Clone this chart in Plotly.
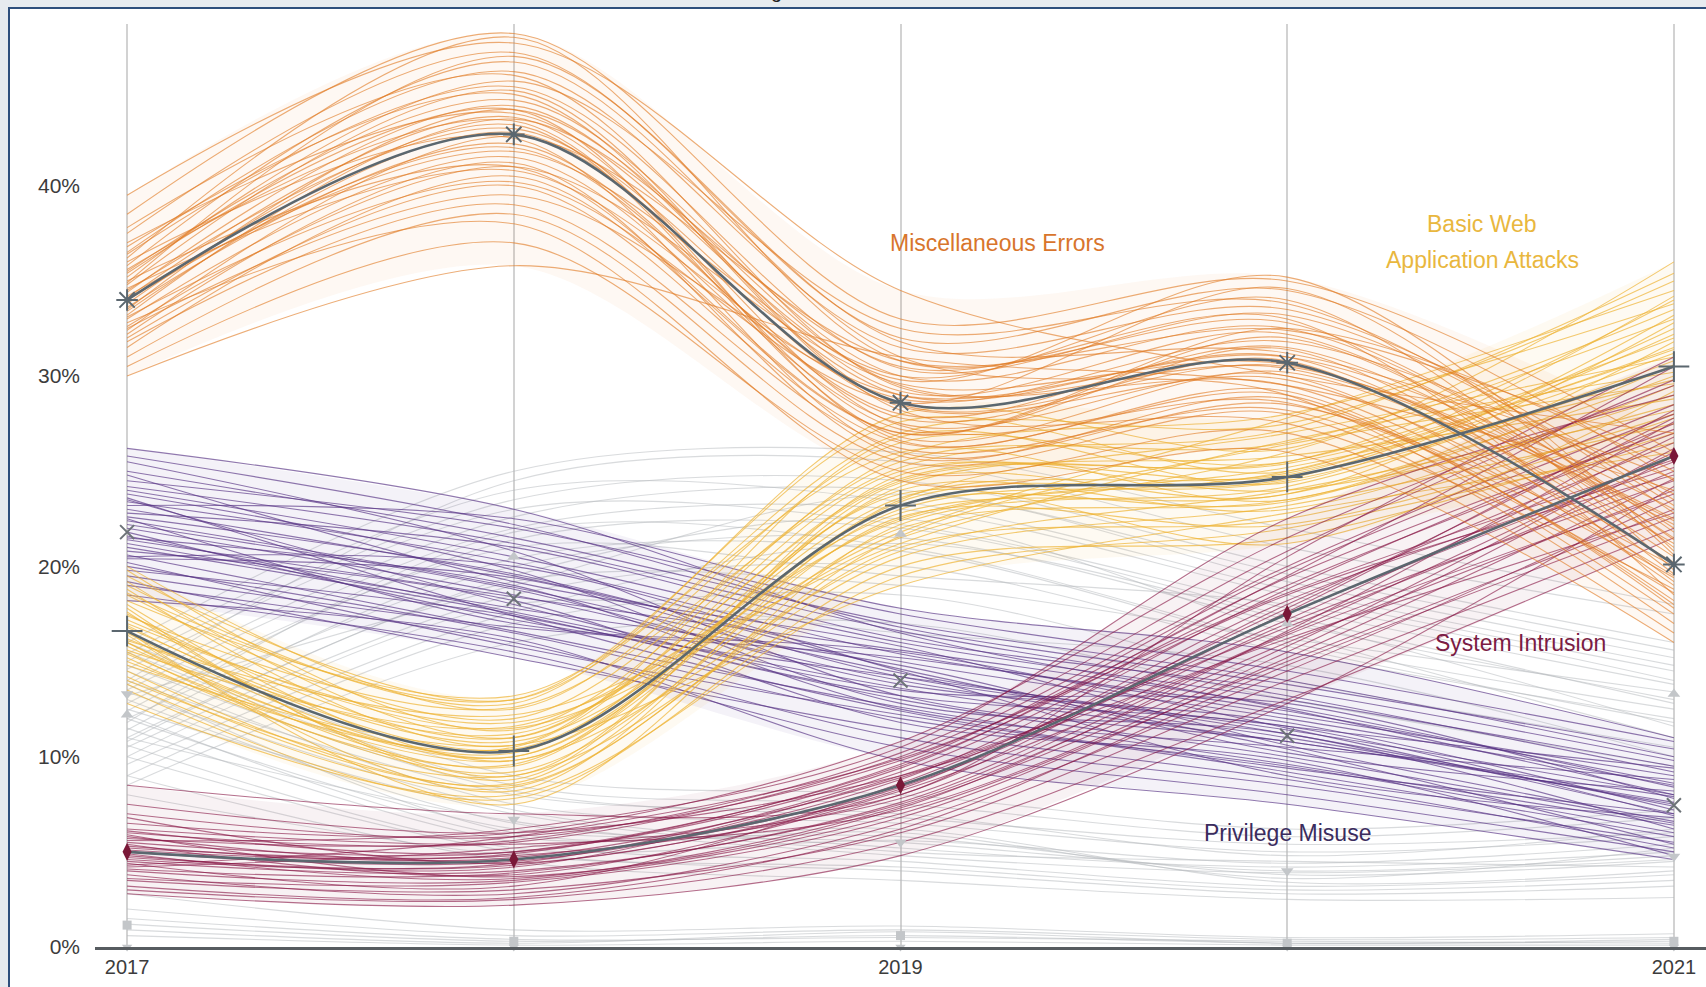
import plotly.graph_objects as go

years = [2017, 2018, 2019, 2020, 2021]
tick_text = ["2017", "", "2019", "", "2021"]
y_ticks = [0, 10, 20, 30, 40]
y_tick_text = ["0%", "10%", "20%", "30%", "40%"]

# Median (central) estimate per pattern, % of breaches
misc_errors_median = [34.0, 42.7, 28.6, 30.7, 20.1]
basic_web_median = [16.6, 10.3, 23.2, 24.7, 30.5]
system_intrusion_median = [5.0, 4.6, 8.5, 17.5, 25.8]
privilege_misuse_median = [21.8, 18.3, 14.0, 11.1, 7.45]
other_a_median = [12.2, 20.5, 21.7, 17.0, 13.3]
other_b_median = [13.3, 6.7, 5.5, 4.0, 4.75]
other_c_median = [1.15, 0.3, 0.6, 0.2, 0.3]
other_d_median = [0.0, 0.0, 0.0, 0.0, 0.0]

# Individual simulated outcomes (one list per line)
misc_errors_draws = [
    [34.5, 43.0, 29.0, 31.0, 20.5], [33.0, 41.5, 27.5, 30.0, 19.0],
    [35.5, 44.5, 30.0, 32.5, 22.0], [32.0, 40.0, 26.5, 29.0, 18.0],
    [36.5, 46.0, 31.5, 33.5, 23.5], [31.0, 38.5, 25.5, 28.0, 17.0],
    [37.5, 47.0, 32.0, 34.5, 24.5], [34.0, 42.0, 28.0, 31.5, 21.5],
    [33.5, 44.0, 29.5, 29.5, 19.5], [35.0, 41.0, 27.0, 32.0, 21.0],
    [30.5, 37.0, 25.0, 27.0, 16.5], [38.5, 48.0, 33.0, 35.0, 26.0],
    [34.8, 45.0, 28.5, 30.5, 22.5], [33.2, 43.5, 30.5, 33.0, 18.5],
    [36.0, 42.5, 26.0, 28.5, 20.0], [32.5, 39.5, 29.0, 31.0, 23.0],
    [35.8, 46.5, 31.0, 29.0, 17.5], [31.5, 40.5, 27.0, 32.5, 25.0],
    [34.2, 41.8, 30.0, 34.0, 19.8], [39.5, 47.5, 34.5, 30.0, 27.0],
    [33.8, 43.2, 26.8, 30.2, 21.2], [36.8, 44.8, 28.2, 27.5, 18.8],
    [32.8, 38.0, 24.5, 26.0, 16.0], [35.2, 45.5, 32.5, 33.8, 22.8],
    [30.0, 35.8, 31.0, 29.5, 24.0], [37.0, 43.8, 29.8, 35.2, 20.8],
    [33.6, 42.2, 27.8, 30.8, 19.2], [34.6, 40.8, 28.8, 31.8, 23.8],
    [36.2, 47.8, 30.8, 32.8, 21.8], [32.2, 41.2, 25.8, 28.8, 18.2],
    [34.4, 44.2, 29.2, 32.2, 21.4], [33.4, 42.8, 28.4, 29.8, 20.2],
    [35.6, 43.4, 27.2, 31.4, 19.6], [32.6, 41.0, 29.6, 30.6, 22.2],
    [36.4, 45.2, 30.4, 33.2, 23.2], [31.8, 39.0, 26.2, 28.2, 18.6],
    [34.9, 46.8, 31.8, 31.2, 24.6], [33.1, 40.2, 28.6, 34.6, 20.6],
    [35.4, 44.0, 26.6, 29.2, 17.8], [37.8, 45.8, 29.4, 30.4, 22.4],
    [32.4, 42.6, 30.8, 32.4, 25.6], [34.1, 43.6, 27.4, 28.6, 19.4],
]
basic_web_draws = [
    [16.5, 10.0, 23.0, 24.5, 30.5], [17.5, 11.0, 24.5, 25.5, 32.0],
    [15.5, 9.2, 22.0, 23.5, 29.0], [18.5, 12.0, 25.5, 26.5, 33.5],
    [14.5, 8.5, 21.0, 22.5, 28.0], [19.5, 13.0, 27.0, 27.5, 35.0],
    [13.5, 7.8, 20.0, 21.5, 27.0], [16.8, 10.8, 22.5, 25.0, 31.5],
    [16.0, 9.5, 24.0, 23.0, 29.5], [17.2, 11.5, 21.5, 26.0, 33.0],
    [15.0, 10.5, 25.0, 24.0, 28.5], [18.0, 9.8, 23.5, 27.0, 31.0],
    [12.8, 8.0, 19.5, 22.0, 26.5], [20.0, 12.5, 26.5, 25.5, 34.0],
    [16.2, 11.2, 22.8, 23.8, 30.0], [17.8, 8.8, 24.8, 24.8, 32.5],
    [14.0, 9.0, 20.5, 23.2, 27.5], [19.0, 12.8, 28.0, 26.2, 36.0],
    [15.8, 10.2, 23.8, 21.2, 29.2], [17.0, 11.8, 21.8, 27.8, 34.5],
    [16.6, 7.5, 22.2, 24.2, 30.8], [18.2, 13.2, 26.0, 23.5, 31.8],
    [15.2, 9.6, 24.2, 25.8, 28.8], [14.8, 10.6, 19.0, 22.8, 26.0],
    [19.8, 11.4, 25.8, 28.0, 33.8], [16.4, 8.2, 23.4, 24.6, 32.2],
    [16.9, 10.4, 23.6, 24.9, 31.2], [15.6, 11.6, 22.4, 25.2, 29.8],
    [17.6, 9.0, 24.4, 23.8, 32.8], [16.1, 12.2, 21.2, 26.6, 30.2],
    [18.8, 10.6, 26.8, 24.4, 33.2], [14.2, 8.6, 22.6, 22.2, 27.8],
    [17.4, 12.6, 25.2, 27.2, 35.4], [15.4, 9.8, 20.8, 24.0, 28.2],
    [19.2, 11.0, 24.6, 25.4, 31.4], [16.0, 10.0, 23.2, 23.4, 30.6],
    [13.8, 8.4, 21.6, 26.4, 29.6], [18.6, 13.0, 27.6, 25.0, 34.2],
]
system_intrusion_draws = [
    [5.0, 4.5, 8.5, 17.5, 25.5], [5.5, 5.0, 9.5, 19.0, 27.0],
    [4.5, 4.0, 7.5, 16.0, 24.0], [6.0, 5.5, 10.0, 20.0, 28.5],
    [4.0, 3.5, 7.0, 15.0, 23.0], [6.5, 6.0, 10.8, 21.5, 29.5],
    [3.5, 3.0, 6.0, 14.0, 22.0], [5.2, 4.8, 8.0, 18.0, 26.5],
    [4.8, 4.2, 9.0, 16.8, 25.0], [5.8, 4.6, 8.8, 18.8, 27.5],
    [4.2, 5.2, 7.8, 17.0, 24.5], [7.0, 5.8, 9.8, 19.5, 30.5],
    [3.0, 2.5, 5.5, 13.0, 21.5], [5.4, 3.8, 8.2, 16.5, 26.0],
    [4.6, 4.4, 9.2, 18.5, 24.8], [6.2, 5.4, 7.2, 15.5, 25.8],
    [3.8, 2.8, 6.5, 14.5, 23.5], [5.6, 6.2, 10.5, 22.5, 29.0],
    [4.4, 3.2, 8.6, 17.8, 27.8], [7.5, 6.0, 9.0, 16.2, 22.8],
    [8.5, 7.0, 8.0, 20.5, 31.0], [2.8, 2.2, 4.8, 12.8, 24.2],
    [5.1, 4.9, 9.6, 19.8, 28.0], [4.9, 3.6, 7.4, 15.8, 26.2],
    [5.3, 4.7, 8.9, 17.2, 26.8], [4.7, 4.3, 8.3, 18.2, 25.2],
    [6.1, 5.0, 9.4, 19.4, 27.2], [4.1, 3.9, 7.6, 16.4, 23.8],
    [5.7, 5.6, 10.2, 20.8, 29.8], [3.6, 3.4, 6.8, 15.2, 24.6],
    [6.8, 4.4, 8.4, 17.6, 28.2], [4.3, 5.8, 9.9, 18.6, 25.6],
    [5.9, 3.7, 7.3, 16.6, 27.6], [3.2, 2.6, 6.2, 14.8, 22.6],
]
privilege_misuse_draws = [
    [22.0, 18.5, 14.0, 11.0, 7.5], [23.0, 19.5, 15.0, 12.0, 8.5],
    [21.0, 17.5, 13.0, 10.0, 6.5], [24.0, 20.5, 16.0, 13.0, 9.5],
    [20.0, 16.5, 12.0, 9.5, 6.0], [25.0, 21.5, 17.0, 14.0, 10.0],
    [19.0, 16.0, 11.0, 8.5, 5.5], [26.2, 23.0, 16.5, 12.5, 8.0],
    [22.5, 17.0, 15.5, 11.5, 7.0], [21.5, 19.0, 12.5, 10.5, 8.8],
    [23.5, 18.0, 13.5, 12.8, 7.8], [20.5, 20.0, 14.5, 9.0, 6.8],
    [18.5, 15.5, 10.5, 8.0, 5.0], [24.5, 22.0, 17.5, 14.5, 10.8],
    [22.2, 18.8, 13.8, 11.8, 7.2], [21.2, 17.8, 14.8, 10.2, 8.2],
    [23.8, 19.8, 12.8, 11.2, 6.2], [19.5, 16.8, 15.2, 12.2, 9.0],
    [25.5, 20.8, 13.2, 10.8, 7.6], [20.8, 18.2, 11.8, 9.8, 4.8],
    [22.8, 21.0, 16.2, 13.5, 9.8], [21.8, 17.2, 14.2, 11.4, 8.0],
    [24.8, 19.2, 15.8, 10.6, 6.6], [20.2, 15.8, 12.2, 9.2, 5.8],
    [23.2, 22.5, 17.8, 15.5, 11.0], [18.2, 16.2, 9.8, 7.5, 4.6],
    [22.4, 18.9, 14.4, 11.2, 7.4], [21.6, 17.6, 13.6, 10.8, 7.9],
    [23.4, 20.2, 15.4, 12.4, 8.6], [20.6, 16.6, 12.6, 9.6, 6.4],
    [24.2, 21.2, 16.6, 13.2, 9.2], [19.8, 17.4, 13.2, 11.6, 6.9],
    [22.6, 19.6, 14.6, 10.4, 5.4], [21.4, 18.4, 15.6, 12.6, 8.4],
    [25.8, 22.2, 16.8, 13.8, 10.4], [23.6, 17.4, 12.4, 9.4, 7.0],
    [20.4, 19.4, 14.2, 11.6, 9.4], [19.2, 15.2, 11.4, 8.8, 5.2],
]
other_a_draws = [
    [12.0, 20.0, 21.5, 17.0, 13.0], [13.5, 22.0, 23.0, 18.5, 14.5],
    [10.5, 18.5, 20.0, 15.5, 12.0], [15.0, 23.5, 24.5, 20.0, 16.0],
    [9.0, 17.0, 18.5, 14.0, 10.5], [14.0, 24.5, 25.5, 21.0, 17.5],
    [11.0, 19.5, 22.5, 16.5, 11.0], [12.8, 21.0, 19.5, 18.0, 14.0],
    [16.0, 25.0, 26.0, 22.0, 18.0], [8.5, 16.0, 17.0, 13.0, 9.5],
    [11.8, 21.8, 21.0, 16.0, 12.5], [13.2, 19.0, 23.8, 19.2, 15.2],
    [10.0, 18.0, 16.5, 14.8, 10.0], [14.6, 23.0, 22.2, 17.8, 13.8],
    [12.4, 21.4, 22.0, 17.4, 12.8], [11.4, 20.4, 20.8, 15.8, 11.8],
    [13.8, 22.6, 24.0, 19.6, 15.6], [10.8, 19.2, 19.0, 16.2, 13.4],
    [15.4, 24.0, 23.4, 18.8, 14.8], [9.6, 17.6, 21.2, 17.2, 11.6],
]
other_b_draws = [
    [13.0, 6.5, 5.5, 4.0, 4.8], [14.5, 7.5, 6.5, 5.0, 5.8],
    [11.5, 5.5, 4.5, 3.2, 3.8], [15.5, 8.5, 7.5, 5.8, 6.8],
    [10.0, 5.0, 4.0, 2.8, 3.2], [16.0, 9.0, 8.0, 6.2, 7.2],
    [12.5, 7.0, 5.0, 4.5, 4.2], [13.8, 6.0, 6.0, 3.6, 5.2],
    [9.0, 4.5, 3.5, 2.5, 2.6], [14.0, 8.0, 7.0, 4.8, 6.2],
    [12.0, 6.2, 5.8, 3.8, 4.5], [8.0, 4.8, 4.2, 3.0, 3.5],
    [13.4, 7.2, 5.2, 4.2, 5.0], [12.2, 5.8, 6.2, 3.4, 4.0],
    [14.8, 8.2, 6.8, 5.4, 6.0], [11.0, 6.6, 4.8, 3.9, 4.6],
    [10.6, 5.2, 5.6, 4.4, 5.4],
]
other_c_draws = [
    [1.2, 0.3, 0.6, 0.2, 0.3], [2.0, 0.6, 0.9, 0.4, 0.5],
    [0.6, 0.1, 0.3, 0.1, 0.1], [2.8, 0.9, 1.1, 0.5, 0.7],
    [1.5, 0.4, 0.5, 0.3, 0.2], [0.9, 0.2, 0.8, 0.2, 0.4],
]

MEDIAN_GREY = "#5b676f"
GREY_LINE = "rgba(180,184,188,0.5)"
GREY_MARK = "#c3c6c9"
SMOOTH = 0.9

fig = go.Figure()


def add_draws(draws, color, width=1.1):
    for d in draws:
        fig.add_trace(go.Scatter(
            x=years, y=d, mode="lines",
            line=dict(color=color, width=width, shape="spline", smoothing=SMOOTH),
            hoverinfo="skip", showlegend=False))


def add_band(draws, color):
    lo = [min(d[i] for d in draws) for i in range(len(years))]
    hi = [max(d[i] for d in draws) for i in range(len(years))]
    fig.add_trace(go.Scatter(x=years, y=lo, mode="lines",
                             line=dict(width=0, shape="spline", smoothing=SMOOTH),
                             hoverinfo="skip", showlegend=False))
    fig.add_trace(go.Scatter(x=years, y=hi, mode="lines", fill="tonexty",
                             fillcolor=color,
                             line=dict(width=0, shape="spline", smoothing=SMOOTH),
                             hoverinfo="skip", showlegend=False))


# background patterns (grey)
add_draws(other_a_draws, GREY_LINE)
add_draws(other_b_draws, GREY_LINE)
add_draws(other_c_draws, GREY_LINE)

# highlighted patterns
add_band(privilege_misuse_draws, "rgba(100,70,150,0.07)")
add_draws(privilege_misuse_draws, "rgba(86,50,132,0.66)")
add_band(basic_web_draws, "rgba(240,190,70,0.07)")
add_draws(basic_web_draws, "rgba(238,180,52,0.7)")
add_band(system_intrusion_draws, "rgba(140,30,75,0.06)")
add_draws(system_intrusion_draws, "rgba(135,22,70,0.62)")
add_band(misc_errors_draws, "rgba(230,130,45,0.06)")
add_draws(misc_errors_draws, "rgba(224,122,36,0.62)")

# median lines
for med in [misc_errors_median, basic_web_median, system_intrusion_median]:
    fig.add_trace(go.Scatter(x=years, y=med, mode="lines",
                             line=dict(color=MEDIAN_GREY, width=2.6, shape="spline", smoothing=SMOOTH),
                             hoverinfo="skip", showlegend=False))


def add_markers(med, symbol, color, size, lw=2, fill=None):
    fig.add_trace(go.Scatter(
        x=years, y=med, mode="markers", cliponaxis=False,
        marker=dict(symbol=symbol, size=size, color=fill or color,
                    line=dict(color=color, width=lw)),
        hoverinfo="skip", showlegend=False))


add_markers(other_a_median, "triangle-up", GREY_MARK, 11, lw=0)
add_markers(other_b_median, "triangle-down", GREY_MARK, 11, lw=0)
add_markers(other_c_median, "square", GREY_MARK, 9, lw=0)
add_markers(other_d_median, "triangle-down", GREY_MARK, 9, lw=0)
add_markers(privilege_misuse_median, "x-thin-open", "#6d7378", 14, lw=2)
add_markers(misc_errors_median, "asterisk-open", MEDIAN_GREY, 18, lw=2)
add_markers(basic_web_median, "cross-thin-open", MEDIAN_GREY, 22, lw=2)
add_markers(system_intrusion_median, "diamond-tall", "#7a1838", 13, lw=0)

label_font = "Liberation Sans, Arial, sans-serif"
labels = [
    ("Miscellaneous Errors", 2019.252, 37.0, "#d8752c"),
    ("Basic Web", 2020.504, 38.0, "#e9b73e"),
    ("Application Attacks", 2020.504, 36.1, "#e9b73e"),
    ("System Intrusion", 2020.604, 16.0, "#7b1c44"),
    ("Privilege Misuse", 2020.002, 6.0, "#3b2c5e"),
]
for text, lx, ly, col in labels:
    fig.add_annotation(x=lx, y=ly, text=text, showarrow=False,
                       font=dict(family=label_font, size=23, color=col),
                       xanchor="center", yanchor="middle")

# cut-off title fragment at the very top
fig.add_annotation(xref="paper", yref="paper", x=(776 - 95) / 1611, y=(947 + 9) / 923,
                   text="g", showarrow=False, xanchor="center", yanchor="middle",
                   font=dict(family=label_font, size=20, color="#222"))

# white card with a dark blue border
fig.add_shape(type="rect", xref="paper", yref="paper", layer="below",
              x0=(9 - 95) / 1611, x1=1.1, y0=-0.2, y1=(947 - 8) / 923,
              fillcolor="white", line=dict(color="#2d4f7c", width=2))

fig.update_layout(
    width=1706, height=987,
    margin=dict(l=95, r=0, t=24, b=40),
    paper_bgcolor="#e6ebef",
    plot_bgcolor="rgba(0,0,0,0)",
    showlegend=False,
    font=dict(family=label_font, color="#3c3c3c"),
    xaxis=dict(range=[2016.917, 2021.083], tickvals=years, ticktext=tick_text,
               showgrid=True, gridcolor="#d2d2d2", gridwidth=1.5,
               showline=True, linecolor="#575c60", linewidth=2.5,
               ticks="", zeroline=False, tickfont=dict(size=20, color="#3c3c3c"),
               fixedrange=True),
    yaxis=dict(range=[0, 48.5], tickvals=y_ticks, ticktext=y_tick_text,
               showgrid=False, zeroline=False, showline=False,
               ticks="", ticklabelstandoff=14, tickfont=dict(size=21, color="#3c3c3c"),
               fixedrange=True),
)

fig.write_html("out.html", config={"displayModeBar": False},
               post_script="document.body.style.margin='0';document.body.style.overflow='hidden';")
